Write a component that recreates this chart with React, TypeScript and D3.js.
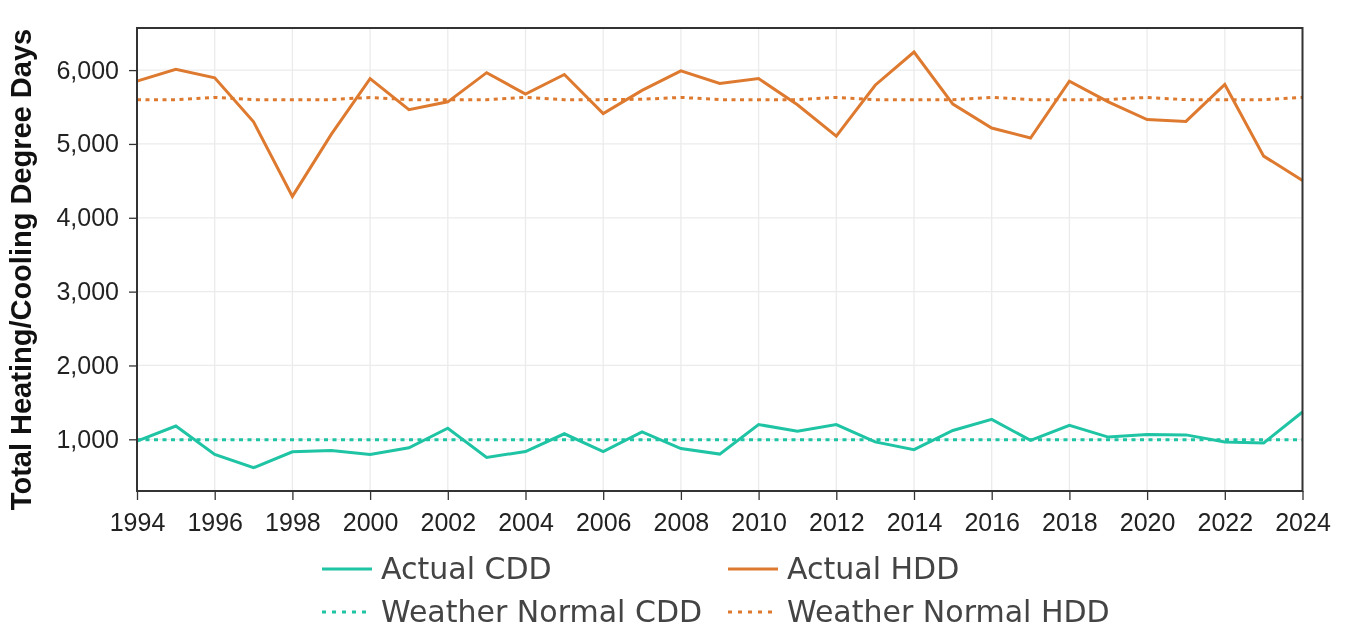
// @ts-nocheck
import { useEffect, useRef } from 'react';
import * as d3 from 'd3';

const years = d3.range(1994, 2025);

const actualHDD = [
  5850, 6010, 5895, 5300, 4290, 5130, 5885, 5465, 5570, 5965,
  5675, 5940, 5410, 5725, 5990, 5820, 5885, 5530, 5105, 5795,
  6245, 5540, 5215, 5080, 5850, 5570, 5330, 5305, 5805, 4835,
  4505
];

const normalHDD = [
  5600, 5600, 5630, 5600, 5600, 5600, 5630, 5600, 5600, 5600,
  5630, 5600, 5600, 5605, 5630, 5600, 5600, 5600, 5630, 5600,
  5600, 5600, 5630, 5600, 5600, 5600, 5630, 5600, 5600, 5600,
  5630
];

const actualCDD = [
  975, 1180, 795, 615, 830, 850, 795, 885, 1150, 755,
  835, 1075, 835, 1100, 875, 800, 1200, 1110, 1200, 965,
  860, 1120, 1270, 985, 1190, 1030, 1065, 1060, 965, 950,
  1370
];

const normalCDD = years.map(() => 995);

const yTicks = [1000, 2000, 3000, 4000, 5000, 6000];
const xTicks = d3.range(1994, 2025, 2);

const series = [
  { name: 'Actual CDD', values: actualCDD, color: '#1fc4a4', dash: null },
  { name: 'Actual HDD', values: actualHDD, color: '#de7a2f', dash: null },
  { name: 'Weather Normal CDD', values: normalCDD, color: '#1fc4a4', dash: '4,4.5' },
  { name: 'Weather Normal HDD', values: normalHDD, color: '#de7a2f', dash: '4,4.5' }
];

const DegreeDays = () => {
  const svgRef = useRef();

  useEffect(() => {
    const svg = d3.select(svgRef.current);
    svg.selectAll('*').remove();

    const margin = { top: 28, right: 43.5, bottom: 139, left: 137 };
    const W = 1346, H = 630;
    const width = W - margin.left - margin.right;
    const height = H - margin.top - margin.bottom;

    const g = svg.append('g').attr('transform', `translate(${margin.left},${margin.top})`);

    const x = d3.scaleLinear().domain([1994, 2024]).range([0, width]);
    const y = d3.scaleLinear().domain([300, 6570]).range([height, 0]);

    // grid
    g.append('g')
      .selectAll('line')
      .data(xTicks)
      .join('line')
      .attr('x1', d => x(d)).attr('x2', d => x(d))
      .attr('y1', 0).attr('y2', height)
      .attr('stroke', '#ebebeb').attr('stroke-width', 1.3);
    g.append('g')
      .selectAll('line')
      .data(yTicks)
      .join('line')
      .attr('x1', 0).attr('x2', width)
      .attr('y1', d => y(d)).attr('y2', d => y(d))
      .attr('stroke', '#ebebeb').attr('stroke-width', 1.3);

    // axes
    const xAxis = g.append('g')
      .attr('transform', `translate(0,${height})`)
      .call(d3.axisBottom(x).tickValues(xTicks).tickFormat(d3.format('d')).tickSize(9).tickPadding(13).tickSizeOuter(0));
    const yAxis = g.append('g')
      .call(d3.axisLeft(y).tickValues(yTicks).tickFormat(d3.format(',')).tickSize(8).tickPadding(10).tickSizeOuter(0));
    [xAxis, yAxis].forEach(a => {
      a.select('.domain').remove();
      a.selectAll('line').attr('stroke', '#333').attr('stroke-width', 1.3);
      a.selectAll('text')
        .style('font-family', '"Liberation Sans", Arial, sans-serif')
        .style('font-size', '25px')
        .attr('fill', '#222');
    });

    // lines
    const line = d3.line().x((d, i) => x(years[i])).y(d => y(d));
    series.forEach(s => {
      g.append('path')
        .datum(s.values)
        .attr('d', line)
        .attr('fill', 'none')
        .attr('stroke', s.color)
        .attr('stroke-width', 3)
        .attr('stroke-dasharray', s.dash);
    });

    // frame
    g.append('rect')
      .attr('width', width).attr('height', height)
      .attr('fill', 'none').attr('stroke', '#333').attr('stroke-width', 2);

    // y title
    svg.append('text')
      .attr('transform', `translate(21,${margin.top + height / 2 + 10}) rotate(-90)`)
      .attr('text-anchor', 'middle')
      .attr('dominant-baseline', 'central')
      .style('font-family', '"Liberation Sans", Arial, sans-serif')
      .style('font-size', '29px')
      .style('font-weight', 'bold')
      .attr('fill', '#111')
      .text('Total Heating/Cooling Degree Days');

    // legend
    const legend = svg.append('g');
    series.forEach((s, i) => {
      const lx = i % 2 === 0 ? 322 : 728;
      const ly = i < 2 ? 569 : 612;
      legend.append('line')
        .attr('x1', lx).attr('x2', lx + 50)
        .attr('y1', ly).attr('y2', ly)
        .attr('stroke', s.color)
        .attr('stroke-width', 3)
        .attr('stroke-dasharray', s.dash ? '4,6' : null);
      legend.append('text')
        .attr('x', lx + 59).attr('y', ly + 10)
        .style('font-family', '"DejaVu Sans", Verdana, sans-serif')
        .style('font-size', '30px')
        .attr('fill', '#444')
        .text(s.name);
    });
  }, []);

  return <svg ref={svgRef} width={1346} height={630} style={{ display: 'block' }}></svg>;
};

export default function App() {
  return (
    <div style={{ position: 'fixed', top: 0, left: 0, width: 1346, height: 630, overflow: 'hidden' }}>
      <DegreeDays />
    </div>
  );
}
